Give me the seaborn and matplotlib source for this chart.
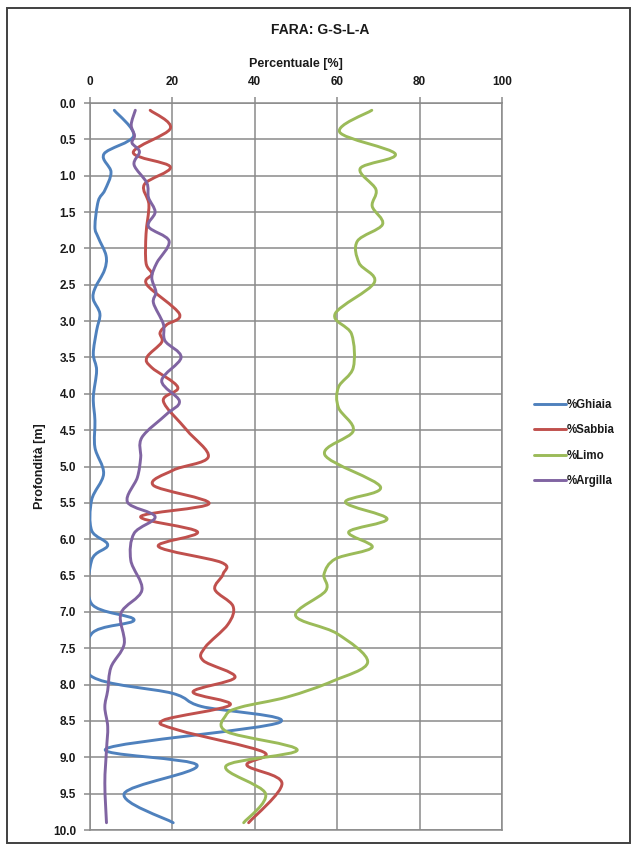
import numpy as np
import pandas as pd
import matplotlib
matplotlib.use("Agg")
import matplotlib.pyplot as plt
import seaborn as sns
from matplotlib.path import Path
from matplotlib.patches import PathPatch, Rectangle
from matplotlib.lines import Line2D

# Grain-size profile, borehole FARA: percentage of each fraction vs depth [m]
ghiaia_depth = [0.1, 0.45, 0.7, 0.95, 1.2, 1.35, 1.7, 1.85, 2.1, 2.3, 2.55, 2.7, 2.9,
                3.13, 3.45, 3.68, 4.05, 4.37, 4.74, 5.1, 5.46, 5.88, 6.08, 6.29, 6.89,
                7.11, 7.3, 7.88, 8.12, 8.3, 8.52, 8.88, 9.11, 9.5, 9.9]
ghiaia_pct = [5.9, 10.6, 3.4, 5.1, 3.6, 2.0, 1.2, 2.0, 3.9, 3.5, 1.2, 0.8, 2.4,
              1.6, 0.8, 1.6, 0.8, 1.2, 1.2, 3.3, 0.4, 0.4, 4.3, 0.4, 0.4,
              10.7, 0.4, 0.2, 20.0, 27.0, 46.0, 4.0, 26.0, 8.3, 20.2]

sabbia_depth = [0.1, 0.35, 0.68, 0.88, 1.12, 1.4, 1.8, 2.2, 2.35, 2.5, 2.9, 3.05, 3.16,
                3.29, 3.5, 3.64, 3.91, 4.1, 4.5, 4.87, 5.05, 5.26, 5.51, 5.69, 5.9, 6.1,
                6.32, 6.48, 6.69, 6.92, 7.17, 7.49, 7.67, 7.9, 8.1, 8.28, 8.49, 8.63,
                8.93, 9.11, 9.36, 9.9]
sabbia_pct = [14.6, 19.5, 10.5, 19.5, 13.2, 14.3, 13.6, 13.6, 15.0, 13.8, 21.7, 18.6, 17.0,
              17.4, 13.8, 15.0, 21.3, 17.8, 23.5, 28.7, 20.2, 15.4, 28.9, 12.3, 26.1, 16.6,
              31.9, 32.3, 30.3, 34.7, 33.5, 27.9, 27.5, 35.2, 25.0, 34.0, 17.8, 21.7,
              42.2, 38.1, 46.6, 38.5]

limo_depth = [0.1, 0.4, 0.7, 0.9, 1.19, 1.42, 1.67, 1.9, 2.2, 2.47, 2.9, 3.18, 3.64,
              3.91, 4.19, 4.51, 4.84, 5.28, 5.49, 5.72, 5.9, 6.11, 6.27, 6.48, 6.71,
              7.05, 7.3, 7.69, 7.95, 8.17, 8.31, 8.42, 8.65, 8.9, 9.12, 9.5, 9.9]
limo_pct = [68.4, 60.6, 74.1, 65.6, 69.4, 68.5, 71.0, 64.9, 65.3, 69.0, 59.5, 63.5, 63.9,
            60.3, 60.3, 63.9, 57.0, 70.5, 62.0, 72.1, 62.8, 68.5, 59.6, 56.8, 57.2,
            49.9, 60.0, 67.4, 59.0, 47.9, 36.6, 33.0, 33.3, 50.3, 33.0, 42.6, 37.3]

argilla_depth = [0.1, 0.3, 0.45, 0.55, 0.67, 0.85, 1.1, 1.3, 1.5, 1.7, 1.9, 2.2, 2.4,
                 2.6, 2.75, 3.04, 3.27, 3.5, 3.82, 4.1, 4.28, 4.6, 4.88, 5.15, 5.49,
                 5.69, 5.92, 6.29, 6.7, 7.02, 7.44, 7.76, 8.08, 8.31, 8.58, 8.9, 9.36, 9.9]
argilla_pct = [11.0, 10.0, 10.8, 10.2, 12.0, 10.7, 13.8, 14.2, 15.8, 14.2, 19.2, 16.2, 15.0,
               16.0, 15.4, 17.8, 18.2, 22.1, 17.4, 21.7, 18.6, 12.6, 12.3, 11.5, 9.1,
               15.8, 10.7, 9.9, 12.6, 7.5, 8.3, 5.1, 4.3, 3.6, 4.3, 4.0, 3.6, 4.0]

series_names = ["%Ghiaia", "%Sabbia", "%Limo", "%Argilla"]
series_colors = ["#4F81BD", "#C0504D", "#9BBB59", "#8064A2"]
x_ticks = [0, 20, 40, 60, 80, 100]
y_ticks = [0.0, 0.5, 1.0, 1.5, 2.0, 2.5, 3.0, 3.5, 4.0, 4.5, 5.0,
           5.5, 6.0, 6.5, 7.0, 7.5, 8.0, 8.5, 9.0, 9.5, 10.0]

frames = []
for name, d, v in zip(series_names,
                      [ghiaia_depth, sabbia_depth, limo_depth, argilla_depth],
                      [ghiaia_pct, sabbia_pct, limo_pct, argilla_pct]):
    frames.append(pd.DataFrame({"Profondità": d, "Percentuale": v, "Serie": name}))
df = pd.concat(frames, ignore_index=True)

sns.set_style("white")
plt.rcParams["font.family"] = ["Liberation Sans", "DejaVu Sans"]
plt.rcParams["font.weight"] = "bold"

fig = plt.figure(figsize=(6.32, 8.46), dpi=100)
fig.patch.set_facecolor("white")
ax = fig.add_axes([90 / 632, 1 - 830 / 846, 412 / 632, 727 / 846])

sns.lineplot(data=df, x="Percentuale", y="Profondità", hue="Serie",
             hue_order=series_names, palette=series_colors, orient="y",
             sort=False, estimator=None, linewidth=2.0, legend=False, ax=ax)


def smooth_path(pts):
    """Cubic Bezier path through the points (Catmull-Rom style smoothed line)."""
    n = len(pts)
    verts = [pts[0]]
    codes = [Path.MOVETO]
    for i in range(n - 1):
        p0 = pts[i - 1] if i > 0 else pts[i]
        p1 = pts[i]
        p2 = pts[i + 1]
        p3 = pts[i + 2] if i + 2 < n else pts[i + 1]
        verts += [p1 + (p2 - p0) / 6.0, p2 - (p3 - p1) / 6.0, p2]
        codes += [Path.CURVE4] * 3
    return Path(verts, codes)


for line in list(ax.lines):
    pts = np.asarray(line.get_xydata(), dtype=float)
    patch = PathPatch(smooth_path(pts), fill=False, edgecolor=line.get_color(),
                      linewidth=2.1, capstyle="round", joinstyle="round", zorder=3)
    ax.add_patch(patch)
    line.remove()

ax.set_xlim(0, 100)
ax.set_ylim(10, 0)
ax.xaxis.tick_top()
ax.xaxis.set_label_position("top")
ax.set_xticks(x_ticks)
ax.set_yticks(y_ticks)
ax.set_yticklabels([f"{t:.1f}" for t in y_ticks])
ax.grid(True, color="#8a8a8a", linewidth=1.1)
ax.set_axisbelow(True)
for s in ax.spines.values():
    s.set_color("#8a8a8a")
    s.set_linewidth(1.1)
ax.tick_params(axis="both", which="both", direction="out", length=4, width=1.1,
               color="#8a8a8a", labelsize=8.5, labelcolor="#1a1a1a")
ax.tick_params(axis="x", top=True, bottom=False, pad=7)
ax.tick_params(axis="y", left=True, right=False, pad=6)
for lbl in ax.get_xticklabels() + ax.get_yticklabels():
    lbl.set_fontweight("bold")

ax.set_xlabel("Percentuale [%]", fontsize=9, fontweight="bold", labelpad=6, color="#1a1a1a")
ax.set_ylabel("Profondità [m]", fontsize=9, fontweight="bold", labelpad=5, color="#1a1a1a")

fig.text(320 / 632, 1 - 30 / 846, "FARA: G-S-L-A", ha="center", va="center",
         fontsize=10, fontweight="bold", color="#1a1a1a")

handles = [Line2D([], [], color=c, linewidth=2.1) for c in series_colors]
fig.legend(handles, series_names, loc="center left",
           bbox_to_anchor=(524 / 632, 1 - 443 / 846), frameon=False,
           handlelength=2.7, handletextpad=0.1, labelspacing=1.15,
           prop={"weight": "bold", "size": 8.3}, labelcolor="#1a1a1a")

fig.add_artist(Rectangle((7 / 632, 3 / 846), 623 / 632, 835 / 846,
                         transform=fig.transFigure, fill=False,
                         edgecolor="#404040", linewidth=1.4))

fig.savefig("out.png", dpi=100, facecolor="white")
